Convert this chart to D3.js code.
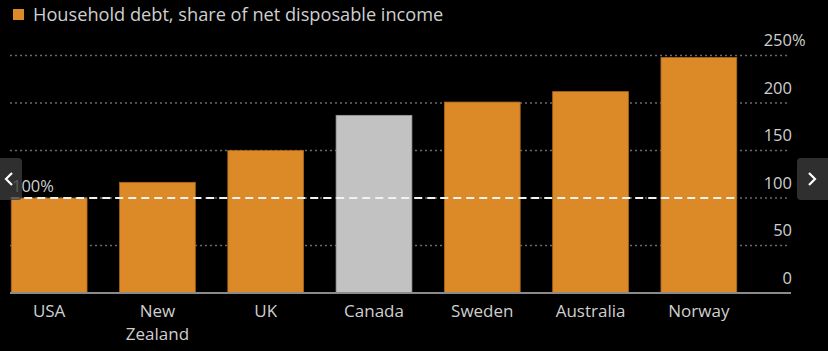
<!DOCTYPE html>
<html>
<head>
<meta charset="utf-8">
<script src="https://cdn.jsdelivr.net/npm/d3@7"></script>
<style>
    html, body { margin: 0; padding: 0; background: #000; }
    svg { display: block; font-family: "Open Sans", sans-serif; }
</style>
</head>
<body>
<svg id="chart"></svg>
<script>
// Data
const countries = ["USA", "New Zealand", "UK", "Canada", "Sweden", "Australia", "Norway"];
const debtShare = [100, 116.5, 150, 187, 201, 212, 248];
const highlight = ["Canada"];
const yTicks = [0, 50, 100, 150, 200, 250];
const refValue = 100;
const legendLabel = "Household debt, share of net disposable income";

const width = 828, height = 351;
const orange = "#dc8a27", grey = "#c2c2c2", textColor = "#cfcfcf";

let svg = d3.select("#chart")
    .attr("width", width)
    .attr("height", height);

svg.append("rect")
    .attr("width", width)
    .attr("height", height)
    .attr("fill", "#000");

// Scales
let x = d3.scaleBand()
    .domain(countries)
    .range([-5, 753])
    .paddingInner(0.3)
    .paddingOuter(0.15);

let y = d3.scaleLinear()
    .domain([0, 250])
    .range([293, 55.5]);

// Gridlines
svg.append("g")
    .selectAll("line")
    .data(yTicks.filter(d => d > 0))
    .join("line")
    .attr("x1", 10)
    .attr("x2", 790)
    .attr("y1", d => y(d))
    .attr("y2", d => y(d))
    .attr("stroke", "#6a6a6a")
    .attr("stroke-width", 1.5)
    .attr("stroke-dasharray", "2,3");

// Y axis labels on the right, sitting above each line
let yAxis = g => g
    .attr("transform", "translate(792,0)")
    .call(d3.axisLeft(y).tickValues(yTicks).tickSize(0).tickPadding(0))
    .call(g => g.select(".domain").remove())
    .call(g => g.selectAll("text")
        .attr("dy", "-10")
        .attr("fill", textColor)
        .style("font-size", "16.5px")
        .style("font-family", "'Open Sans', sans-serif"));

svg.append("g").call(yAxis);

svg.append("text")
    .attr("x", 792)
    .attr("y", y(250) - 10)
    .attr("fill", textColor)
    .style("font-size", "16.5px")
    .text("%");

// Bars
svg.append("g")
    .selectAll("rect")
    .data(countries)
    .join("rect")
    .attr("x", d => x(d))
    .attr("y", (d, i) => y(debtShare[i]))
    .attr("width", x.bandwidth())
    .attr("height", (d, i) => y(0) - y(debtShare[i]))
    .attr("fill", d => highlight.includes(d) ? grey : orange)
    .attr("stroke", d => highlight.includes(d) ? "#9a9a9a" : "#a8661c")
    .attr("stroke-width", 0.8);

// Baseline
svg.append("line")
    .attr("x1", 10)
    .attr("x2", 791)
    .attr("y1", y(0))
    .attr("y2", y(0))
    .attr("stroke", "#8a8a8a")
    .attr("stroke-width", 2);

// 100% reference line
svg.append("line")
    .attr("x1", x(countries[0]))
    .attr("x2", x(countries[countries.length - 1]) + x.bandwidth())
    .attr("y1", y(refValue))
    .attr("y2", y(refValue))
    .attr("stroke", "#f2f2f2")
    .attr("stroke-width", 2)
    .attr("stroke-dasharray", "8,5");

svg.append("text")
    .attr("x", 12)
    .attr("y", y(refValue) - 6)
    .attr("fill", textColor)
    .style("font-size", "16.5px")
    .text(refValue + "%");

// X labels
let xLabels = svg.append("g")
    .selectAll("text")
    .data(countries)
    .join("text")
    .attr("x", d => x(d) + x.bandwidth() / 2)
    .attr("y", 317)
    .attr("text-anchor", "middle")
    .attr("fill", textColor)
    .style("font-size", "17px");

xLabels.selectAll("tspan")
    .data(d => d.split(" "))
    .join("tspan")
    .attr("x", function() { return this.parentNode.getAttribute("x"); })
    .attr("dy", (d, i) => i === 0 ? 0 : 23)
    .text(d => d);

// Legend
svg.append("rect")
    .attr("x", 13)
    .attr("y", 9)
    .attr("width", 11)
    .attr("height", 11)
    .attr("fill", orange);

svg.append("text")
    .attr("x", 33)
    .attr("y", 21)
    .attr("fill", textColor)
    .style("font-size", "18.2px")
    .text(legendLabel);

// Carousel buttons seen on the screenshot (semi-transparent)
let navButtons = [
    {x: -6, w: 28, dir: -1},
    {x: 797, w: 37, dir: 1}
];

svg.append("g")
    .selectAll("rect")
    .data(navButtons)
    .join("rect")
    .attr("x", d => d.x)
    .attr("y", 158)
    .attr("width", d => d.w)
    .attr("height", 42)
    .attr("rx", 4)
    .attr("fill", "#3b3b3b")
    .attr("opacity", 0.8);

svg.append("g")
    .selectAll("path")
    .data(navButtons)
    .join("path")
    .attr("d", d => {
        let cx = d.dir < 0 ? 9 : 812;
        return `M${cx - 3 * d.dir},173 L${cx + 3 * d.dir},179 L${cx - 3 * d.dir},185`;
    })
    .attr("fill", "none")
    .attr("stroke", "#fff")
    .attr("stroke-width", 2.2);
</script>
</body>
</html>
